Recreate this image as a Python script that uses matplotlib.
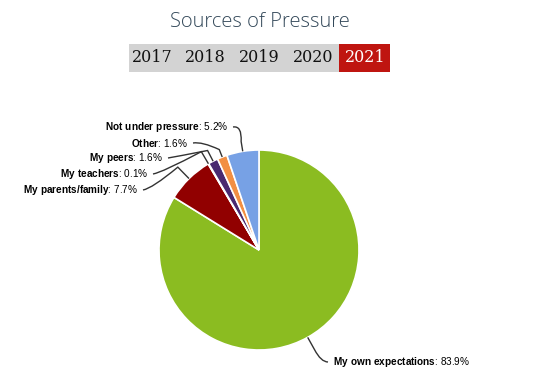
import numpy as np
import matplotlib
matplotlib.use("Agg")
import matplotlib.pyplot as plt
from matplotlib.patches import Rectangle
from matplotlib.path import Path
from matplotlib.patches import PathPatch

plt.rcParams['mathtext.fontset'] = 'custom'
plt.rcParams['mathtext.rm'] = 'Liberation Sans'
plt.rcParams['mathtext.bf'] = 'Liberation Sans:bold'

title = "Sources of Pressure"
years = ["2017", "2018", "2019", "2020", "2021"]
selected_year = "2021"
categories = ["My own expectations", "My parents/family", "My teachers",
              "My peers", "Other", "Not under pressure"]
values = [83.9, 7.7, 0.1, 1.6, 1.6, 5.2]
colors = ["#8bbc21", "#910000", "#1aadce", "#492970", "#f28f43", "#77a1e5"]

W, H = 538, 382
fig = plt.figure(figsize=(W / 100, H / 100), dpi=100)
ax = fig.add_axes([0, 0, 1, 1])
ax.set_xlim(0, W)
ax.set_ylim(0, H)
ax.axis('off')

def Y(y):  # image-y to axes-y
    return H - y

cx, cy, R = 259, Y(250), 100
wedges, _ = ax.pie(values, colors=colors, startangle=90, counterclock=False,
                   center=(cx, cy), radius=R,
                   wedgeprops=dict(edgecolor='white', linewidth=1.2))
ax.set_xlim(0, W)
ax.set_ylim(0, H)
ax.set_aspect('equal')

# label layout (image coords): (x, y, ha)
label_pos = [(333, 362, 'left'), (138, 190, 'right'), (148, 174, 'right'),
             (163, 158, 'right'), (188, 143, 'right'), (228, 127, 'right')]
outer_r = [R + 14, R + 16, R + 14, R + 12, R + 8, R + 10]

for w, cat, v, (lx, ly, ha), orr in zip(wedges, categories, values, label_pos, outer_r):
    ang = np.deg2rad((w.theta1 + w.theta2) / 2)
    ex, ey = cx + R * np.cos(ang), cy + R * np.sin(ang)
    ox, oy = cx + orr * np.cos(ang), cy + orr * np.sin(ang)
    if ha == 'right':
        tx = lx + 5
        mx = lx + 14
    else:
        tx = lx - 5
        mx = lx - 12
    verts = [(tx, Y(ly)), (mx, Y(ly) + (1.5 if ha == 'right' else 0)),
             (ox, oy), (ex, ey)]
    # smooth curve: label -> corner (quadratic) -> edge
    path = Path([verts[0], verts[1], ((verts[1][0] + ox) / 2 * 0 + ox, oy) if False else verts[2], verts[3]],
                [Path.MOVETO, Path.CURVE3, Path.CURVE3, Path.LINETO])
    ax.add_patch(PathPatch(path, facecolor='none', edgecolor='#333333', lw=1.0))
    name = cat.replace(' ', r'\ ')
    ax.text(lx, Y(ly), r"$\bf{" + name + "}$" + f": {v}%", ha=ha, va='center',
            fontsize=7.2, family='Liberation Sans', color='#000000')

# title
fig.text(260 / W, 1 - 22 / H, title, ha='center', va='center',
         fontsize=14.5, family='Open Sans', color='#34495a', weight='light')

# year selector
ax.add_patch(Rectangle((129, Y(72)), 210, 28, facecolor='#d3d3d3',
                       edgecolor='none'))
ax.add_patch(Rectangle((339, Y(72)), 51, 28, facecolor='#bf1510',
                       edgecolor='none'))
year_x = [152, 205, 259, 313, 365]
for yr, x in zip(years, year_x):
    ax.text(x, Y(58), yr, ha='center', va='center', fontsize=11.5,
            family='DejaVu Serif',
            color='white' if yr == selected_year else '#111111')

fig.savefig('out.png', dpi=100)
